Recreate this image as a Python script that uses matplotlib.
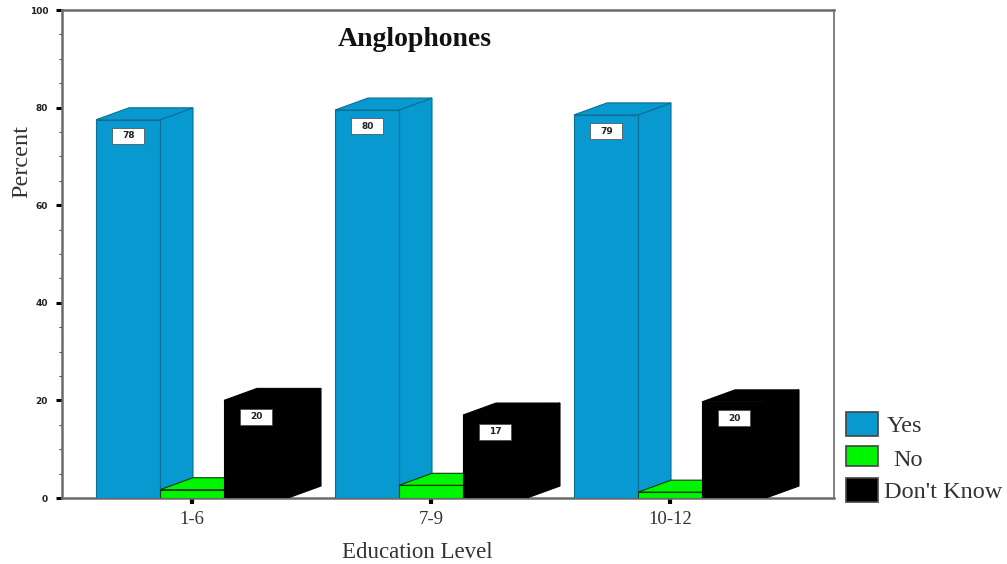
import matplotlib
matplotlib.use('Agg')
import matplotlib.pyplot as plt
from matplotlib.patches import Rectangle

W, H = 1007, 564

# Datos
groups = ['1-6', '7-9', '10-12']
yes_vals = [77.5, 79.5, 78.5]
no_vals = [1.7, 2.6, 1.2]
dk_vals = [20.0, 17.0, 19.7]
yes_labels = ['78', '80', '79']
dk_labels = ['20', '17', '20']
legend_names = ['Yes', 'No', "Don't Know"]

BLUE = '#0799cf'
GREEN = '#00f500'
BLACK = '#000000'
GRAY = '#6b6b6b'
SERIF = 'Liberation Serif'

bar_w = 64 / 239
dx = 33 / 239
dy = 12 / 4.88
box_w = 32 / 239
box_h = 16 / 4.88


def bar3d(ax, x0, h, color, edge):
    x1 = x0 + bar_w
    # cara lateral, cara superior y frente
    ax.fill([x1, x1 + dx, x1 + dx, x1], [0, dy, h + dy, h], fc=color, ec=edge, lw=0.8, zorder=3)
    ax.fill([x0, x0 + dx, x1 + dx, x1], [h, h + dy, h + dy, h], fc=color, ec=edge, lw=0.8, zorder=3)
    ax.fill([x0, x1, x1, x0], [0, 0, h, h], fc=color, ec=edge, lw=0.8, zorder=3)


def value_box(ax, xc, yc, txt):
    ax.add_patch(Rectangle((xc - box_w / 2, yc - box_h / 2), box_w, box_h, fc='white',
                           ec='#444444', lw=0.5, zorder=5))
    ax.text(xc, yc, txt, ha='center', va='center', fontsize=6.5, fontweight='bold',
            color='#222222', zorder=6)


fig = plt.figure(figsize=(W / 100, H / 100), dpi=100)
ax = fig.add_axes([62 / W, 1 - 498 / H, (834 - 62) / W, (498 - 10) / H])
ax.set_xlim((62 - 192) / 239, (834 - 192) / 239)
ax.set_ylim(0, 100)

for i in range(len(groups)):
    bar3d(ax, i - 1.5 * bar_w, yes_vals[i], BLUE, '#0a6f94')
    bar3d(ax, i - 0.5 * bar_w, no_vals[i], GREEN, '#0b3d0b')
    bar3d(ax, i + 0.5 * bar_w, dk_vals[i], BLACK, BLACK)
    value_box(ax, i - bar_w + 0.002, yes_vals[i] - 3.3, yes_labels[i])
    value_box(ax, i + bar_w + 0.002, dk_vals[i] - 3.4, dk_labels[i])

ax.set_xticks(range(len(groups)))
ax.set_xticklabels(groups, family=SERIF, fontsize=13.5, color='#333333')
ax.tick_params(axis='x', length=4, width=3, color='black', pad=5)
ax.set_yticks([0, 20, 40, 60, 80, 100])
ax.set_yticks(range(0, 101, 5), minor=True)
ax.tick_params(axis='y', which='major', length=4, width=2.2, color='black', pad=6,
               labelsize=6.5, labelcolor='#222222')
ax.tick_params(axis='y', which='minor', length=2, width=0.8, color='#444444')
for lab in ax.get_yticklabels():
    lab.set_fontweight('bold')

for side in ['top', 'bottom', 'left']:
    ax.spines[side].set_color(GRAY)
    ax.spines[side].set_linewidth(1.8)
ax.spines['right'].set_color(GRAY)
ax.spines['right'].set_linewidth(1.2)

fig.text(415 / W, 1 - 39 / H, 'Anglophones', family=SERIF, fontsize=20, fontweight='bold',
         ha='center', va='center', color='#111111')
fig.text(417 / W, 1 - 552 / H, 'Education Level', family=SERIF, fontsize=16.5,
         ha='center', va='center', color='#333333')
fig.text(22 / W, 1 - 162 / H, 'Percent', family=SERIF, fontsize=17.5, rotation=90,
         ha='center', va='center', color='#333333')

# Leyenda a mano
swatches = [(412, 436, BLUE), (446, 466, GREEN), (478, 502, BLACK)]
text_pos = [(887, 427), (893, 461), (884, 493)]
for (top, bot, c), (tx, ty), name in zip(swatches, text_pos, legend_names):
    fig.add_artist(Rectangle((846 / W, 1 - bot / H), 32 / W, (bot - top) / H, fc=c,
                             ec='#444444', lw=1.2, transform=fig.transFigure))
    fig.text(tx / W, 1 - ty / H, name, family=SERIF, fontsize=17.5, ha='left', va='center',
             color='#333333')

fig.savefig('out.png', dpi=100, facecolor='white')
